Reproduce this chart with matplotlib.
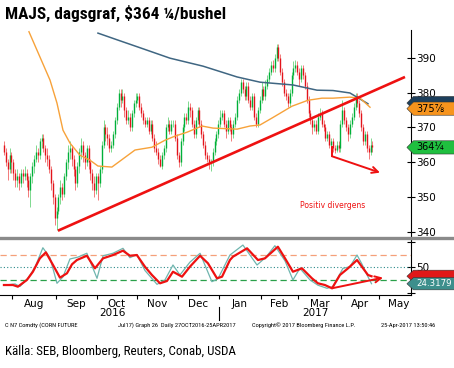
import matplotlib
matplotlib.use("Agg")
import matplotlib.pyplot as plt
import matplotlib.transforms as mtrans
from matplotlib.lines import Line2D
from matplotlib.patches import Polygon
import pandas as pd

# daily bars 25 Jul 2016 - 25 Apr 2017, one line per week
first_open = 365
close = [
    363, 360, 358, 362, 360,
    357, 355, 356, 354, 357,
    356, 357, 355, 352, 356,
    359, 361, 363, 362, 366,
    367, 364, 362, 361, 358,
    354, 350, 344, 346, 350,
    353, 351, 356, 360, 363,
    364, 361, 358, 354, 359,
    363, 365, 362, 360, 364,
    360, 357, 354, 352, 356,
    354, 358, 365, 370, 368,
    367, 364, 365, 368, 372,
    376, 380, 378, 379, 375,
    372, 373, 370, 374, 377,
    378, 379, 376, 374, 372,
    371, 372, 369, 371, 367,
    364, 363, 361, 359, 362,
    364, 370, 371, 369, 371,
    371, 367, 362, 360, 366,
    370, 373, 372, 376, 375,
    371, 368, 372, 375, 371,
    368, 365, 362, 361, 360,
    360, 363, 366, 368, 371,
    373, 374, 371, 369, 372,
    370, 368, 371, 373, 378,
    380, 383, 381, 379, 382,
    378, 376, 379, 373, 371,
    375, 378, 381, 379, 382,
    384, 386, 388, 387, 390,
    393, 390, 386, 383, 380,
    379, 377, 380, 385, 387,
    388, 386, 384, 387, 385,
    382, 378, 374, 372, 370,
    371, 369, 373, 374, 371,
    370, 367, 368, 365, 366,
    364, 363.5, 365, 364, 371,
    375, 372, 370, 368, 371,
    373, 376, 379, 377, 374,
    370, 366, 368, 364, 363,
    365, 364.25,
]
high = [
    366, 364, 361, 364, 363,
    361, 358, 358, 357, 358,
    358, 359, 358, 356, 357,
    360, 362, 365, 364, 367,
    368, 368, 365, 364, 362,
    359, 355, 351, 347, 351,
    355, 354, 357, 361, 365,
    366, 365, 362, 359, 360,
    364, 367, 366, 363, 365,
    365, 361, 358, 356, 357,
    357, 359, 366, 372, 371,
    370, 368, 366, 369, 373,
    377, 381, 381, 381, 380,
    376, 375, 374, 375, 378,
    380, 380, 380, 377, 375,
    373, 373, 373, 372, 372,
    368, 366, 364, 362, 363,
    365, 371, 373, 372, 372,
    372, 372, 368, 363, 367,
    371, 374, 374, 377.5, 377,
    376, 372, 373, 376, 376,
    372, 369, 366, 363, 362,
    361, 364, 367, 369, 372,
    375, 375, 375, 372, 373,
    373, 371, 372, 374, 379,
    381, 384, 384, 382, 383,
    383, 379, 380, 380, 374,
    376, 379, 383, 382, 383.5,
    385, 387, 389, 389.5, 391,
    394, 394, 391, 387, 384,
    381, 380, 381, 386, 389,
    389.5, 389, 387, 388, 388,
    386, 383, 379, 375, 373,
    372, 372, 374, 375.5, 375,
    372, 371, 369, 369, 367,
    367, 365, 366, 366, 372,
    378, 376, 373, 371, 372,
    374, 377, 380, 380, 378,
    375, 371, 369, 369, 365,
    367, 366,
]
low = [
    362, 359, 355, 357, 357,
    355, 353, 353, 352, 353,
    354, 355, 353, 350, 347,
    354, 357, 360, 360, 361,
    364, 363, 360, 359, 357,
    352, 348, 342, 340.5, 345,
    348, 349, 350, 355, 358,
    361, 359, 356, 352, 353,
    357, 361, 360, 358, 359,
    358, 355, 352, 350, 351,
    349, 353, 357, 364, 366,
    365, 363, 363, 364, 367,
    371, 375, 376, 377, 373,
    371, 371, 369, 369, 373,
    376, 377, 375, 373, 371,
    370, 370, 368, 368, 366,
    363, 362, 359.5, 358.5, 358,
    361, 363, 369, 368, 368,
    370, 366, 361, 358.5, 359,
    365, 369, 371, 371, 373,
    370, 367, 367, 371, 370,
    367, 364, 361, 360, 358,
    357.5, 359, 362, 365, 367,
    370, 372, 370, 367, 368,
    369, 366, 367, 370, 372,
    377, 379, 380, 378, 378,
    377, 375, 375, 372, 370,
    370, 374, 377, 378, 378,
    381, 383, 385, 386, 386,
    389, 389, 385, 382, 379,
    378, 376, 376, 379, 384,
    386, 385, 382, 383, 384,
    381, 377, 373, 371, 368,
    369, 368, 368, 372, 370,
    369, 366, 366, 364, 364,
    363, 362.5, 363, 363, 363,
    370, 371, 369, 366, 367,
    370, 372, 375, 376, 373,
    369, 365, 365, 363, 361,
    362, 363,
]

# moving averages (trading-day index, price)
ma50_x = [13.3, 19.1, 24.5, 28.2, 31.4, 35.1, 40.4, 45.7, 50, 57.4, 69.7, 78.7, 85.6, 91,
          97.3, 105.3, 111.2, 124, 130.9, 136.2, 142.6, 153.2, 161.7, 169.1, 175, 184, 189.4, 194.7]
ma50_y = [397.5, 390.3, 383.6, 377, 369.2, 365.5, 362.0, 360.6, 358.9, 358.6, 363.5, 364.3, 366.3, 367.5,
          368.6, 370.4, 369.8, 369.5, 370.4, 370.7, 372.7, 376.1, 377.8, 378.4, 378.4, 378.7, 378.4, 375.8]
ma200_x = [50, 60.6, 71.3, 88.3, 105.9, 124, 136.2, 153.7, 166.5, 175, 184, 193.6]
ma200_y = [397.1, 395.1, 393.1, 389.9, 387.6, 384.5, 383.0, 382.2, 380.7, 380.6, 379.9, 376.8]

# RSI (teal) and its smoothed line (red)
rsi_x = [0, 5.9, 8.5, 12.8, 16.5, 20.7, 24.5, 28.2, 31.4, 35.1, 39.4, 44.1, 49.5, 52.7, 58, 63.3,
         67, 70.7, 75, 81.4, 85.6, 89.9, 93.6, 98.9, 104.3, 110.6, 113.8, 120.2, 127.1, 134.6,
         139.4, 144.1, 149.5, 153.7, 157.4, 162.8, 167, 171.8, 175, 180.3, 184, 187.8, 190.4,
         193.6, 195.5]
rsi_y = [22, 24, 20, 33, 50, 80.6, 65, 25, 35, 63, 66, 72, 32.8, 68, 72, 79.7,
         65, 70, 45, 23.4, 30, 53.6, 38, 58, 71.9, 27.5, 32, 69.2, 84.8, 53.6,
         66, 83.8, 60, 30.2, 48.4, 30.2, 22, 17.2, 19.7, 48.4, 50.9, 69.2, 55,
         35.3, 24.3]
rsi_sm_x = [0, 4.8, 7.4, 12.2, 15.4, 19.1, 22.3, 26.1, 29.8, 33.5, 36.2, 38.8, 44.1, 48.4, 52.7,
            58, 63.3, 67, 70.7, 75, 78.7, 83, 86.7, 89.9, 94.7, 98.9, 104.3, 108.5, 113.3, 116,
            120.2, 121.8, 129.3, 135.1, 138.8, 145.7, 149.5, 153.7, 158.5, 163.8, 167, 170.7,
            174.5, 178.7, 183, 187.8, 191, 193.6, 195.5]
rsi_sm_y = [22.3, 22.3, 19.7, 30.2, 43.1, 64, 73.4, 53.6, 33.8, 40.6, 54.7, 61.4, 68.1, 48.4, 64,
            69.2, 76, 68.1, 69.2, 50.9, 38, 25, 28.6, 43.1, 35.3, 50.9, 68.1, 56.3, 32.8, 35.3,
            61.4, 66.6, 79.7, 61.4, 64, 82.2, 64, 43.1, 48.4, 32.8, 25, 22.3,
            17.2, 38, 48.4, 61.4, 48.4, 38, 36]

trend_x, trend_y = [28.7, 213.3], [340.3, 384.5]
div_px = [174.5, 174.5, 200]
div_py = [364.3, 361.7, 357.0]
div_rx = [174.5, 201.6]
div_ry = [17.2, 33.8]

RED = "#ee1111"
days = pd.bdate_range("2016-07-25", "2017-04-25")
cal = pd.bdate_range("2016-07-25", "2017-05-31")
n = len(close)
assert n == len(days) == len(high) == len(low)
opens = [first_open] + close[:-1]

fig = plt.figure(figsize=(4.54, 3.68), dpi=100)
ax = fig.add_axes([0, 0.356, 0.9053, 0.5625])
ax2 = fig.add_axes([0, 0.1984, 0.9053, 0.1494])
X0, X1 = -2.1, 216.5

# price bars
for i in range(n):
    up = close[i] >= opens[i]
    ax.vlines(i, low[i], high[i], color="#7fd98f" if up else "#f27a7a", lw=0.7, zorder=2)
    ax.vlines(i, min(opens[i], close[i]), max(opens[i], close[i]),
              color="#00b03a" if up else "#e3141b", lw=1.0, zorder=3)

ax.plot(ma200_x, ma200_y, color="#3f6682", lw=1.1, zorder=4)
ax.plot(ma50_x, ma50_y, color="#f7a23a", lw=1.0, zorder=4)
ax.plot(trend_x, trend_y, color=RED, lw=1.9, zorder=5, solid_capstyle="butt")
ax.plot(div_px[:2], div_py[:2], color=RED, lw=1.4, zorder=5)
ax.annotate("", xy=(div_px[2], div_py[2]), xytext=(div_px[1], div_py[1]),
            arrowprops=dict(arrowstyle="->", color=RED, lw=1.4, mutation_scale=11,
                            shrinkA=0, shrinkB=0), zorder=5)
ax.text(175, 347.6, "Positiv divergens", color=RED, fontsize=5.5, ha="center", va="center")

ax.set_xlim(X0, X1)
ax.set_ylim(338.5, 398)
for s in ["left", "top", "bottom"]:
    ax.spines[s].set_visible(False)
ax.spines["right"].set_linewidth(0.8)
ax.set_xticks([])
ax.yaxis.tick_right()
ax.set_yticks([340, 350, 360, 370, 380, 390])
ax.tick_params(axis="y", direction="inout", length=6, width=0.8, pad=1, labelsize=7.5)


def tag(a, y, h, color, text=None, tc="black", fs=7, z=6):
    tr = mtrans.blended_transform_factory(a.transAxes, a.transData)
    pts = [(0.99, y), (1.006, y + h), (1.11, y + h), (1.11, y - h), (1.006, y - h)]
    a.add_patch(Polygon(pts, closed=True, fc=color, ec="#333333", lw=0.4,
                        transform=tr, clip_on=False, zorder=z))
    if text:
        a.text(1.014, y, text, transform=tr, color=tc, fontsize=fs, va="center",
               ha="left", zorder=z + 1, clip_on=False)


tag(ax, 377.0, 1.9, "#1d3f5c")
tag(ax, 375.4, 1.9, "#f7941d", "375⅞")
tag(ax, 364.25, 1.9, "#1fbf3f", "364¼")

# RSI panel
ax2.axhline(70, color="#f5a07a", lw=0.9, ls=(0, (5, 3)))
ax2.axhline(50, color="#2a8a8a", lw=0.8, ls=(0, (1, 2)))
ax2.axhline(30, color="#2aa04a", lw=0.9, ls=(0, (5, 3)))
ax2.plot(rsi_x, rsi_y, color="#6fb5ae", lw=0.9, zorder=3)
ax2.plot(rsi_sm_x, rsi_sm_y, color=RED, lw=1.6, zorder=4)
ax2.annotate("", xy=(div_rx[1], div_ry[1]), xytext=(div_rx[0], div_ry[0]),
             arrowprops=dict(arrowstyle="->", color=RED, lw=1.4, mutation_scale=11,
                             shrinkA=0, shrinkB=0), zorder=5)
ax2.set_xlim(X0, X1)
ax2.set_ylim(6.7, 92.7)
for s in ["left", "top"]:
    ax2.spines[s].set_visible(False)
ax2.spines["right"].set_linewidth(0.8)
ax2.spines["bottom"].set_linewidth(0.8)
ax2.yaxis.tick_right()
ax2.set_yticks([10, 50, 90], ["", "50", ""])
ax2.tick_params(axis="y", direction="inout", length=6, width=0.8, pad=1, labelsize=7.5)
tag(ax2, 36, 9.5, "#e01818")
tag(ax2, 24.3, 9.5, "#3d8f8c", "24.3179", tc="white", fs=6.2)

# month ticks and labels
starts = []
for m in pd.period_range("2016-08", "2017-05", freq="M"):
    pos = cal.searchsorted(m.start_time)
    starts.append(pos - 0.5)
ends = starts[1:] + [starts[-1] + 21]
mid = [(a + b) / 2 for a, b in zip(starts, ends)]
ax2.set_xticks(starts, [""] * len(starts))
ax2.set_xticks(mid, ["Aug", "Sep", "Oct", "Nov", "Dec", "Jan", "Feb", "Mar", "Apr", "May"], minor=True)
ax2.tick_params(axis="x", which="major", direction="out", length=3, width=0.8)
ax2.tick_params(axis="x", which="minor", length=0, pad=3, labelsize=7.5)
trx = mtrans.blended_transform_factory(ax2.transData, ax2.transAxes)
ax2.text(57.5, -0.33, "2016", transform=trx, ha="center", va="center", fontsize=7.5)
ax2.text(165.5, -0.33, "2017", transform=trx, ha="center", va="center", fontsize=7.5)
ax2.add_line(Line2D([starts[5], starts[5]], [-0.22, -0.45], transform=trx, color="black",
                    lw=0.8, clip_on=False))

# separator bar between panels
fig.add_artist(Line2D([0, 1], [1 - 238 / 368, 1 - 238 / 368], transform=fig.transFigure,
                      color="#8a8a8a", lw=2.4))

narrow = ["Roboto Condensed", "Roboto", "DejaVu Sans"]
fig.text(5 / 454, 1 - 13 / 368, "MAJS, dagsgraf, $364 ¼/bushel", fontsize=12.4,
         fontweight="bold", family=narrow, va="center")
fig.text(5 / 454, 1 - 352 / 368, "Källa: SEB, Bloomberg, Reuters, Conab, USDA",
         fontsize=9.4, family=narrow, va="center")
foot_y = 1 - 325 / 368
foot = dict(fontsize=4.6, va="center", family=narrow)
fig.text(5 / 454, foot_y, "C N7 Comdty (CORN FUTURE", **foot)
fig.text(118 / 454, foot_y, "Jul17) Graph 26  Daily 27OCT2016-25APR2017", **foot)
fig.text(252 / 454, foot_y, "Copyright© 2017 Bloomberg Finance L.P.", **foot)
fig.text(381 / 454, foot_y, "25-Apr-2017 13:50:46", **foot)

fig.savefig("out.png", dpi=100)
